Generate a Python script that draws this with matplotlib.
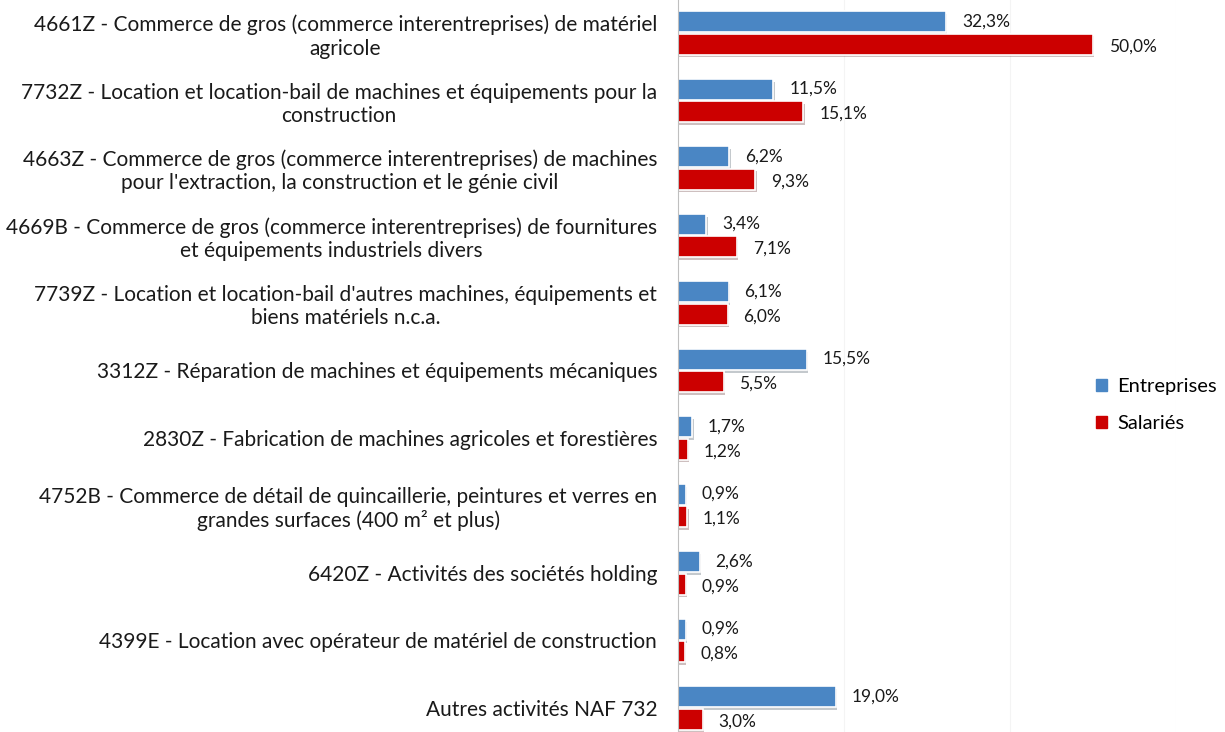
import numpy as np
import matplotlib.pyplot as plt
import matplotlib.patheffects as pe
from matplotlib.patches import Patch

plt.rcParams['font.family'] = ['Lato', 'DejaVu Sans']

categories = [
    "4661Z - Commerce de gros (commerce interentreprises) de matériel\nagricole",
    "7732Z - Location et location-bail de machines et équipements pour la\nconstruction",
    "4663Z - Commerce de gros (commerce interentreprises) de machines\npour l'extraction, la construction et le génie civil",
    "4669B - Commerce de gros (commerce interentreprises) de fournitures\net équipements industriels divers",
    "7739Z - Location et location-bail d'autres machines, équipements et\nbiens matériels n.c.a.",
    "3312Z - Réparation de machines et équipements mécaniques",
    "2830Z - Fabrication de machines agricoles et forestières",
    "4752B - Commerce de détail de quincaillerie, peintures et verres en\ngrandes surfaces (400 m² et plus)",
    "6420Z - Activités des sociétés holding",
    "4399E - Location avec opérateur de matériel de construction",
    "Autres activités NAF 732",
]
entreprises = [32.3, 11.5, 6.2, 3.4, 6.1, 15.5, 1.7, 0.9, 2.6, 0.9, 19.0]
salaries = [50.0, 15.1, 9.3, 7.1, 6.0, 5.5, 1.2, 1.1, 0.9, 0.8, 3.0]

blue = '#4a86c4'
red = '#cc0000'

fig = plt.figure(figsize=(12.25, 7.32), dpi=100)
ax = fig.add_axes([0.5535, 0, 0.4065, 1])

y = np.arange(len(categories))
h = 0.31
shadow = [pe.SimplePatchShadow(offset=(1, -2), alpha=0.25), pe.Normal()]
b1 = ax.barh(y - h / 2 - 0.01, entreprises, height=h, color=blue,
             edgecolor='white', linewidth=1.2)
b2 = ax.barh(y + h / 2 + 0.01, salaries, height=h, color=red,
             edgecolor='white', linewidth=1.2)
for b in list(b1) + list(b2):
    b.set_path_effects(shadow)

for yy, v in zip(y, entreprises):
    ax.text(v + 1.9, yy - h / 2 - 0.02, f"{v:.1f}%".replace('.', ','),
            va='center', ha='left', fontsize=12.5, color='#1a1a1a')
for yy, v in zip(y, salaries):
    ax.text(v + 1.9, yy + h / 2 + 0.04, f"{v:.1f}%".replace('.', ','),
            va='center', ha='left', fontsize=12.5, color='#1a1a1a')

ax.set_xlim(0, 60)
ax.set_ylim(10.356, -0.489)
ax.set_xticks([20, 40, 60])
ax.xaxis.grid(True, color='#f4f4f4', linewidth=0.8)
ax.set_axisbelow(True)
ax.tick_params(axis='x', length=0, labelbottom=False)
ax.set_yticks(y)
ax.set_yticklabels(categories, fontsize=15, multialignment='center', color='#1a1a1a',
                   linespacing=1.2)
ax.tick_params(axis='y', length=0, pad=15)
for s in ['top', 'right', 'bottom']:
    ax.spines[s].set_visible(False)
ax.spines['left'].set_color('#bfbfbf')

handles = [Patch(color=blue, label='Entreprises'), Patch(color=red, label='Salariés')]
fig.legend(handles=handles, loc='center left', bbox_to_anchor=(0.888, 0.447),
           frameon=False, fontsize=14.5, handlelength=0.55, handleheight=0.55,
           labelspacing=1.0, handletextpad=0.5, borderaxespad=0)

fig.savefig('out.png', dpi=100)
